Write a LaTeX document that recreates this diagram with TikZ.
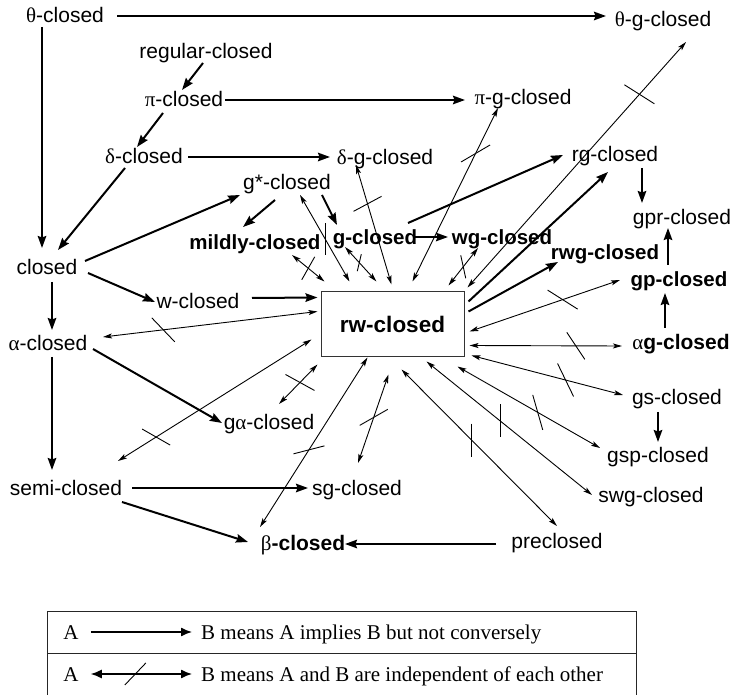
\documentclass[tikz,border=0pt]{standalone}
\usepackage{fontspec}
\setmainfont{Liberation Sans}
\newfontfamily\grk{Liberation Serif}
\newfontfamily\tms{Liberation Serif}
\usetikzlibrary{arrows.meta,calc,decorations.markings}
\begin{document}
\begin{tikzpicture}[x=1pt,y=-1pt,
  lbl/.style={inner sep=0pt, text height=15pt, text depth=1pt, font=\fontsize{21}{25}\selectfont},
  blbl/.style={lbl, font=\fontsize{20.5}{25}\selectfont\bfseries},
  imp/.style={line width=2pt, -{Stealth[length=12pt,width=8.5pt,inset=1.5pt]}},
  ind/.style={line width=0.9pt, {Stealth[length=9pt,width=5pt,inset=2pt]}-{Stealth[length=9pt,width=5pt,inset=2pt]}},
  crossmk/.style n args={3}{postaction={decorate,decoration={markings,mark=at position #1 with {\pgftransformresetnontranslations\draw[-,line width=0.9pt] (#2)--(#3);}}}},
  lgt/.style={inner sep=0pt, text height=14pt, text depth=0pt, font=\tms\fontsize{21}{25}\selectfont},
  legimp/.style={line width=1.3pt, -{Latex[length=11pt,width=9pt]}},
  legind/.style={line width=1.3pt, {Latex[length=11pt,width=9pt]}-{Latex[length=11pt,width=9pt]}},
]
\useasboundingbox (0,0) rectangle (732,695);

% nodes
\node[lbl] (thc) at (65,16) {{\grk θ}-closed};
\node[lbl] (thg) at (663,20) {{\grk θ}-g-closed};
\node[lbl] (reg) at (206,52) {regular-closed};
\node[lbl] (pic) at (184,100) {{\grk π}-closed};
\node[lbl] (pig) at (523,98) {{\grk π}-g-closed};
\node[lbl] (dec) at (144,157) {{\grk δ}-closed};
\node[lbl] (deg) at (385,158) {{\grk δ}-g-closed};
\node[lbl] (gst) at (287,183) {g*-closed};
\node[lbl] (rgc) at (615,155) {rg-closed};
\node[lbl] (gpr) at (682,218) {gpr-closed};
\node[blbl] (mil) at (255,243) {mildly-closed};
\node[blbl] (gcl) at (375,238) {g-closed};
\node[blbl] (wgc) at (502,238) {wg-closed};
\node[blbl] (rwg) at (605,253) {rwg-closed};
\node[lbl] (clo) at (47,268) {closed};
\node[lbl] (wcl) at (198,302) {w-closed};
\node[draw=black!80, line width=1pt, minimum width=143pt, minimum height=65pt, inner sep=0pt, font=\fontsize{22.5}{27}\selectfont\bfseries] (rw) at (392.5,324.5) {rw-closed};
\node[blbl] (gpc) at (679,280) {gp-closed};
\node[lbl] (alc) at (48,344) {{\grk α}-closed};
\node[lbl] (agc) at (681,343) {{\grk α}\textbf{g-closed}};
\node[lbl] (gac) at (269,423) {g{\grk α}-closed};
\node[lbl] (gsc) at (677,398) {gs-closed};
\node[lbl] (gsp) at (658,455) {gsp-closed};
\node[lbl] (sem) at (66,488) {semi-closed};
\node[lbl] (sgc) at (357,488) {sg-closed};
\node[lbl] (swg) at (651,495) {swg-closed};
\node[lbl] (bet) at (303,543) {{\grk β}\textbf{-closed}};
\node[lbl] (pre) at (557,541) {preclosed};

% implications
\draw[imp] ($(thc)+(52,0)$) -- ($(thg)+(-57,-4)$);
\draw[imp] ($(thc)+(-23,11)$) -- ($(clo)+(-5,-20)$);
\draw[imp] ($(reg)+(-3,11)$) -- ($(pic)+(-2,-10)$);
\draw[imp] ($(pic)+(41,0)$) -- ($(pig)+(-58,2)$);
\draw[imp] ($(pic)+(-21,13)$) -- ($(dec)+(-7,-10)$);
\draw[imp] ($(dec)+(44,0)$) -- ($(deg)+(-55,-1)$);
\draw[imp] ($(dec)+(-19,11)$) -- ($(clo)+(11,-18)$);
\draw[imp] ($(clo)+(38,-7)$) -- ($(gst)+(-47,12)$);
\draw[imp] ($(clo)+(41,5)$) -- ($(wcl)+(-43,0)$);
\draw[imp] ($(clo)+(5,14)$) -- ($(alc)+(4,-14)$);
\draw[imp] ($(wcl)+(54,-4)$) -- ($(rw.north west)+(-3,6)$);
\draw[imp] ($(gst)+(-12,17)$) -- ($(mil)+(-12,-16)$);
\draw[imp] ($(gst)+(35,12)$) -- ($(gcl)+(-38,-13)$);
\draw[imp] ($(gcl)+(40,-1)$) -- ($(wgc)+(-54,-1)$);
\draw[imp] ($(rgc)+(27,13)$) -- ($(gpr)+(-40,-15)$);
\draw[imp] ($(gpc)+(-11,-15)$) -- ($(gpr)+(-14,10)$);
\draw[imp] ($(agc)+(-16,-15)$) -- ($(gpc)+(-14,13)$);
\draw[imp] ($(gsc)+(-19,14)$) -- ($(gsp)+(0,-13)$);
\draw[imp] ($(alc)+(45,5)$) -- ($(gac)+(-47,0)$);
\draw[imp] ($(alc)+(4,13)$) -- ($(sem)+(-14,-18)$);
\draw[imp] ($(sem)+(66,0)$) -- ($(sgc)+(-49,0)$);
\draw[imp] ($(sem)+(56,14)$) -- ($(bet)+(-55,-1)$);
\draw[imp] ($(pre)+(-61,3)$) -- ($(bet)+(42,1)$);
\draw[imp] ($(gcl)+(33,-15)$) -- ($(rgc)+(-52,0)$);
\draw[imp] ($(rw.north east)+(4,20)$) -- ($(rwg)+(-47,9)$);
\draw[imp] ($(rw.north east)+(4,10)$) -- ($(rgc)+(-7,17)$);

% independences
\draw[ind, crossmk={0.787}{-15,-9.5}{15,9.5}] ($(rw.north west)+(147,-4)$) -- ($(thg)+(23,22)$);
\draw[ind, crossmk={0.738}{-14.5,8.5}{14.5,-8.5}] ($(rw.north west)+(92,-10)$) -- ($(pig)+(-25,10)$);
\draw[ind, crossmk={0.675}{-14,7.5}{14,-7.5}] ($(rw.north west)+(71,-7)$) -- ($(deg)+(-29,7)$);
\draw[ind, crossmk={0.5}{-2.5,-11.5}{2.5,11.5}] ($(rw.north west)+(128,-6)$) -- ($(wgc)+(-24,10)$);
\draw[ind, crossmk={0.547}{2,-8.5}{-2,8.5}] ($(rw.north west)+(56,-10)$) -- ($(gcl)+(-30,9)$);
\draw[ind, crossmk={0.5}{6.5,-11.5}{-6.5,11.5}] ($(rw.north west)+(4,-10)$) -- ($(mil)+(37,12)$);
\draw[ind, crossmk={0.491}{0,-16}{0,16}] ($(rw.north west)+(29,-10)$) -- ($(gst)+(13,12)$);
\draw[ind, crossmk={0.719}{-11.5,-12}{11.5,12}] ($(rw.north west)+(-3,20)$) -- ($(alc)+(55,-7)$);
\draw[ind, crossmk={0.803}{-14,-8}{14,8}] ($(rw.north west)+(-9,48)$) -- ($(sem)+(52,-27)$);
\draw[ind, crossmk={0.455}{-14.5,-8}{14.5,8}] ($(rw.north west)+(-3,73)$) -- ($(gac)+(10,-19)$);
\draw[ind, crossmk={0.545}{-15.5,4}{15.5,-4}] ($(rw.north west)+(47,66)$) -- ($(bet)+(-43,-16)$);
\draw[ind, crossmk={0.485}{-14,8}{14,-8}] ($(rw.north west)+(68,83)$) -- ($(sgc)+(1,-25)$);
\draw[ind, crossmk={0.452}{0,-16.5}{0,16.5}] ($(rw.north west)+(81,78)$) -- ($(pre)+(0,-15)$);
\draw[ind, crossmk={0.444}{0,-16.5}{0,16.5}] ($(rw.north west)+(106,70)$) -- ($(swg)+(-59,0)$);
\draw[ind, crossmk={0.563}{-5,-17.5}{5,17.5}] ($(rw.north west)+(137,75)$) -- ($(gsp)+(-58,-7)$);
\draw[ind, crossmk={0.621}{-8,-16.5}{8,16.5}] ($(rw.north west)+(151,64)$) -- ($(gsc)+(-54,-3)$);
\draw[ind, crossmk={0.697}{-9,-13.5}{9,13.5}] ($(rw.north west)+(149,54)$) -- ($(agc)+(-59,3)$);
\draw[ind, crossmk={0.619}{-15,-9.5}{15,9.5}] ($(rw.north west)+(149,40)$) -- ($(gpc)+(-59,0)$);

% legend
\node[draw=black!85, line width=1.2pt, minimum width=589pt, minimum height=42pt, inner sep=0pt, anchor=north west] (lg1) at (47,611) {};
\node[draw=black!85, line width=1.2pt, minimum width=589pt, minimum height=42pt, inner sep=0pt, anchor=north west] (lg2) at (47,653) {};
\node[lgt] (la1) at (71,632) {A};
\node[lgt, anchor=west] (lb1) at (201,632) {B means A implies B but not conversely};
\draw[legimp] ($(la1.east)+(12,0)$) -- ($(lb1.west)+(-9,0)$);
\node[lgt] (la2) at (71,674) {A};
\node[lgt, anchor=west] (lb2) at (201,674) {B means A and B are independent of each other};
\draw[legind, crossmk={0.44}{-10.5,11}{10.5,-11}] ($(la2.east)+(12,0)$) -- ($(lb2.west)+(-9,0)$);
\end{tikzpicture}
\end{document}
